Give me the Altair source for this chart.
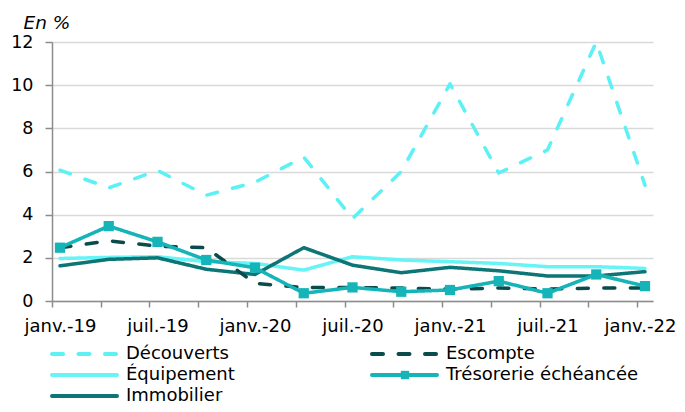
import altair as alt
import pandas as pd

quarters = ["janv.-19", "avr.-19", "juil.-19", "oct.-19", "janv.-20", "avr.-20", "juil.-20",
            "oct.-20", "janv.-21", "avr.-21", "juil.-21", "oct.-21", "janv.-22"]

decouverts = [6.06, 5.24, 6.05, 4.9, 5.5, 6.67, 3.82, 6.0, 10.06, 5.93, 7.0, 12.0, 5.36]
escompte = [2.47, 2.79, 2.54, 2.47, 0.82, 0.62, 0.62, 0.6, 0.55, 0.6, 0.55, 0.6, 0.6]
equipement = [1.97, 2.02, 2.05, 1.82, 1.74, 1.43, 2.05, 1.9, 1.82, 1.74, 1.59, 1.59, 1.51]
immobilier = [1.63, 1.93, 2.0, 1.47, 1.23, 2.47, 1.66, 1.31, 1.56, 1.4, 1.16, 1.16, 1.36]
tresorerie = [2.47, 3.47, 2.74, 1.9, 1.54, 0.36, 0.63, 0.43, 0.51, 0.92, 0.36, 1.23, 0.69]

series_names = ["Découverts", "Escompte", "Équipement", "Trésorerie échéancée", "Immobilier"]
series_values = [decouverts, escompte, equipement, tresorerie, immobilier]
series_colors = ["#5CF1F5", "#0A4B4B", "#66F4F7", "#14B4B8", "#0D7575"]
series_dash = [[11, 15.5], [11, 15.5], [1, 0], [1, 0], [1, 0]]
draw_order = {"Découverts": 0, "Équipement": 1, "Immobilier": 2, "Escompte": 3, "Trésorerie échéancée": 4}

rows = []
for name, vals in zip(series_names, series_values):
    for i, v in enumerate(vals):
        rows.append({"serie": name, "idx": i, "trim": quarters[i], "val": v, "ord": draw_order[name]})
df = pd.DataFrame(rows)
df = df.sort_values(["ord", "idx"])

FONT = "DejaVu Sans"
lab_arr = "[" + ",".join("'%s'" % q for q in quarters) + "]"

x = alt.X("idx:Q",
          scale=alt.Scale(domain=[-0.164, 12.164], nice=False, zero=False),
          axis=alt.Axis(title=None, values=list(range(13)), grid=False,
                        labelExpr="datum.value % 2 ? '' : " + lab_arr + "[datum.value]",
                        tickOffset=-8,
                        labelOffset={"condition": {"test": "datum.value == 12", "value": 3}, "value": 8},
                        tickSize=6, labelPadding=10,
                        domainColor="#8C8C8C", tickColor="#8C8C8C", domainWidth=1.5, tickWidth=1.5,
                        labelFont=FONT, labelFontSize=18, labelColor="#000000", labelOverlap=False,
                        labelBound=False))
y = alt.Y("val:Q",
          scale=alt.Scale(domain=[0, 12], nice=False),
          axis=alt.Axis(title="En %", values=[0, 2, 4, 6, 8, 10, 12], grid=True,
                        gridColor="#D9D9D9", gridWidth=1.5, tickSize=7, labelPadding=12,
                        domainColor="#8C8C8C", tickColor="#8C8C8C", domainWidth=1.5, tickWidth=1.5,
                        labelFont=FONT, labelFontSize=17.5, labelColor="#000000",
                        titleAngle=0, titleAlign="left", titleBaseline="alphabetic",
                        titleX=-29, titleY=-14, titleFont=FONT, titleFontSize=18.5,
                        titleFontStyle="italic", titleFontWeight="normal", titleColor="#000000"))

color = alt.Color("serie:N", scale=alt.Scale(domain=series_names, range=series_colors), legend=None)
dash = alt.StrokeDash("serie:N", scale=alt.Scale(domain=series_names, range=series_dash), legend=None)

lines = alt.Chart(df).mark_line(strokeWidth=3.5, strokeCap="round", strokeJoin="round").encode(
    x=x, y=y, color=color, strokeDash=dash, order=alt.Order("ord:Q"))

pts = alt.Chart(df[df["serie"] == "Trésorerie échéancée"]).mark_point(
    shape="square", filled=True, size=105, opacity=1, color="#14B4B8").encode(x=x, y=y)

# custom legend (2 columns, row-major), positions in pixels relative to the plot area
legend_layers = []
for k, (name, col, dsh) in enumerate(zip(series_names, series_colors, series_dash)):
    c, r = k % 2, k // 2
    x0 = -2 + c * 320
    yy = 312 + r * 21
    src = alt.Data(values=[{"label": name}])
    legend_layers.append(
        alt.Chart(src).mark_rule(strokeWidth=4, strokeCap="round", strokeDash=dsh, color=col).encode(
            x=alt.value(x0 + 2), x2=alt.value(x0 + 67), y=alt.value(yy)))
    if name == "Trésorerie échéancée":
        legend_layers.append(
            alt.Chart(src).mark_point(shape="square", filled=True, size=70, opacity=1, color=col).encode(
                x=alt.value(x0 + 35), y=alt.value(yy)))
    legend_layers.append(
        alt.Chart(src).mark_text(align="left", baseline="middle", font=FONT, fontSize=18,
                                 color="#000000").encode(
            x=alt.value(x0 + 76), y=alt.value(yy), text="label:N"))

chart = alt.layer(lines, pts, *legend_layers).properties(
    width=601, height=259,
    autosize=alt.AutoSizeParams(type="none"),
    padding={"left": 44, "top": 34, "right": 24, "bottom": 103},
).configure_view(stroke=None)

chart.save("out.html", embed_options={"renderer": "svg", "actions": False})
